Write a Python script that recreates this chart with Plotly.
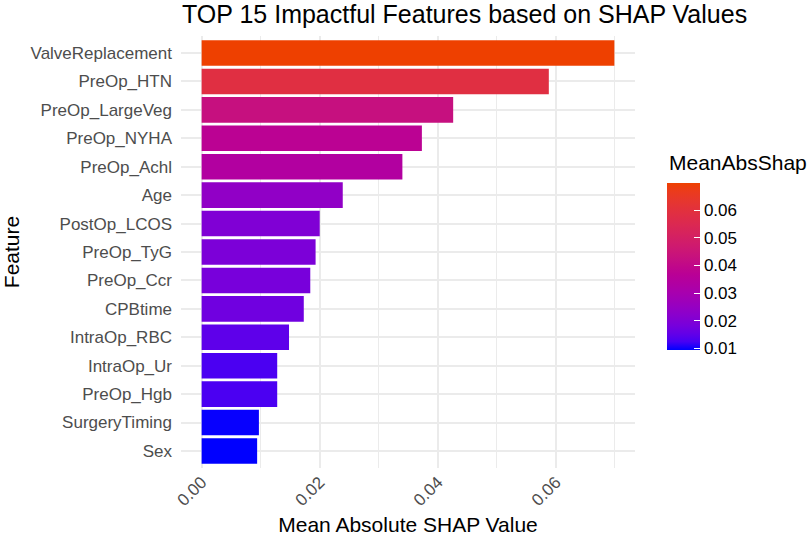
import numpy as np
import plotly.graph_objects as go

features = ["ValveReplacement", "PreOp_HTN", "PreOp_LargeVeg", "PreOp_NYHA", "PreOp_Achl",
            "Age", "PostOp_LCOS", "PreOp_TyG", "PreOp_Ccr", "CPBtime",
            "IntraOp_RBC", "IntraOp_Ur", "PreOp_Hgb", "SurgeryTiming", "Sex"]
mean_abs_shap = [0.0699, 0.0588, 0.0426, 0.0373, 0.0340,
                 0.0239, 0.0200, 0.0193, 0.0184, 0.0173,
                 0.0148, 0.0128, 0.0128, 0.0097, 0.0094]
x_ticks = [0.00, 0.02, 0.04, 0.06]
cbar_ticks = [0.01, 0.02, 0.03, 0.04, 0.05, 0.06]

LOW = "#0000FF"
HIGH = "#EE4000"

# Lab interpolation (like ggplot2 scale_fill_gradient)
def hex2rgb(h):
    h = h.lstrip("#")
    return np.array([int(h[i:i+2], 16) / 255 for i in (0, 2, 4)])

def srgb2lin(c):
    return np.where(c <= 0.04045, c / 12.92, ((c + 0.055) / 1.055) ** 2.4)

def lin2srgb(c):
    c = np.clip(c, 0, 1)
    return np.where(c <= 0.0031308, 12.92 * c, 1.055 * c ** (1 / 2.4) - 0.055)

M = np.array([[0.4124564, 0.3575761, 0.1804375],
              [0.2126729, 0.7151522, 0.0721750],
              [0.0193339, 0.1191920, 0.9503041]])
Minv = np.linalg.inv(M)
WP = np.array([0.95047, 1.0, 1.08883])

def f(t):
    d = 6 / 29
    return np.where(t > d ** 3, np.cbrt(t), t / (3 * d * d) + 4 / 29)

def finv(t):
    d = 6 / 29
    return np.where(t > d, t ** 3, 3 * d * d * (t - 4 / 29))

def rgb2lab(rgb):
    xyz = M @ srgb2lin(rgb) / WP
    fx, fy, fz = f(xyz)
    return np.array([116 * fy - 16, 500 * (fx - fy), 200 * (fy - fz)])

def lab2rgb(lab):
    L, a, b = lab
    fy = (L + 16) / 116
    fx = fy + a / 500
    fz = fy - b / 200
    xyz = np.array([finv(fx), finv(fy), finv(fz)]) * WP
    return lin2srgb(Minv @ xyz)

lab_lo, lab_hi = rgb2lab(hex2rgb(LOW)), rgb2lab(hex2rgb(HIGH))
colorscale = []
for t in np.linspace(0, 1, 21):
    r, g, b = (lab2rgb(lab_lo + (lab_hi - lab_lo) * t) * 255).round().astype(int)
    colorscale.append([float(t), f"rgb({r},{g},{b})"])

FONT = "Liberation Sans, Arial, Helvetica, sans-serif"
xmax = max(mean_abs_shap)
W, H = 809, 537
PL, PR, PT, PB = 181, 635, 36, 468
pw, ph = PR - PL, PB - PT

fig = go.Figure(go.Bar(
    x=mean_abs_shap, y=features, orientation="h", width=0.9,
    marker=dict(color=mean_abs_shap, colorscale=colorscale,
                cmin=min(mean_abs_shap), cmax=xmax,
                line=dict(width=0),
                colorbar=dict(
                    thickness=33, len=167, lenmode="pixels",
                    x=(667 - PL) / pw, xanchor="left",
                    y=(PB - 183) / ph, yanchor="top",
                    xpad=0, ypad=0, outlinewidth=0,
                    tickvals=cbar_ticks, ticktext=[f"{v:.2f}" for v in cbar_ticks],
                    ticks="inside", ticklen=6, tickcolor="white", tickwidth=1,
                    tickfont=dict(size=17, color="black", family=FONT),
                )),
    showlegend=False,
))

fig.add_annotation(text="MeanAbsShap", xref="paper", yref="paper",
                   x=(667 - PL) / pw, xanchor="left",
                   y=(PB - 162) / ph, yanchor="middle", showarrow=False,
                   font=dict(size=21, color="black", family=FONT))

fig.update_layout(
    width=W, height=H,
    margin=dict(l=PL, r=W - PR, t=PT, b=H - PB, autoexpand=False),
    paper_bgcolor="white", plot_bgcolor="white",
    font=dict(family=FONT, color="black"),
    title=dict(text="TOP 15 Impactful Features based on SHAP Values",
               xref="container", yref="container", x=182 / W, xanchor="left",
               y=1 - 14 / H, yanchor="middle",
               font=dict(size=25, color="black", family=FONT)),
    xaxis=dict(range=[-0.05 * xmax, 1.05 * xmax], automargin=False,
               tickvals=x_ticks, ticktext=[f"{v:.2f}" for v in x_ticks],
               tickangle=-45, tickfont=dict(size=17, color="#4D4D4D", family=FONT),
               showgrid=True, gridcolor="#EBEBEB", gridwidth=2,
               minor=dict(tick0=0.01, dtick=0.02, showgrid=True,
                          gridcolor="#EBEBEB", gridwidth=1.2),
               zeroline=False, showline=False, ticks="",
               title=dict(text="Mean Absolute SHAP Value", standoff=8,
                          font=dict(size=21, color="black", family=FONT))),
    yaxis=dict(categoryorder="array", categoryarray=features, automargin=False,
               range=[len(features) - 0.4, -0.6],
               tickfont=dict(size=17, color="#4D4D4D", family=FONT),
               ticklabelstandoff=8,
               showgrid=True, gridcolor="#EBEBEB", gridwidth=2,
               zeroline=False, showline=False, ticks="",
               title=dict(text="Feature", standoff=10,
                          font=dict(size=21, color="black", family=FONT))),
)

fig.write_html("out.html", config={"displayModeBar": False},
               post_script="document.body.style.margin='0';")
